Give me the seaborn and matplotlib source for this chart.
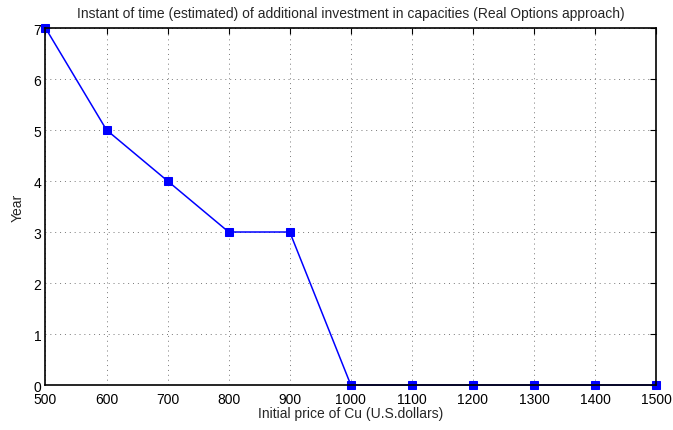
import matplotlib
matplotlib.use("Agg")
from matplotlib import pyplot as plt
import seaborn as sns
import pandas as pd

# Data
price = [500, 600, 700, 800, 900, 1000, 1100, 1200, 1300, 1400, 1500]
year = [7, 5, 4, 3, 3, 0, 0, 0, 0, 0, 0]
data = pd.DataFrame({"price": price, "year": year})

sns.set_style("white")
plt.rcParams['font.family'] = ['Liberation Sans', 'DejaVu Sans']
plt.rcParams['font.size'] = 10

fig = plt.figure(figsize=(6.73, 4.31), dpi=100)
ax = fig.add_axes([0.0676, 0.1044, 0.9074, 0.8283])

sns.lineplot(x="price", y="year", data=data, ax=ax, color="blue", linewidth=1.1,
             marker="s", markersize=6, markeredgecolor="blue", markerfacecolor="blue")

ax.set_xlim(500, 1500)
ax.set_ylim(0, 7)
ax.set_xticks(range(500, 1501, 100))
ax.set_yticks(range(0, 8))
ax.grid(True, color="#777777", linestyle=(0, (1, 4)), linewidth=0.7)
ax.tick_params(direction="in", top=True, right=True, length=4, width=0.8,
               labelsize=10, colors="black", pad=3)
ax.tick_params(axis="x", pad=5)
for s in ax.spines.values():
    s.set_visible(True)
    s.set_color("black")
    s.set_linewidth(1.2)
for line in ax.get_lines():
    line.set_clip_on(False)

ax.set_xlabel("Initial price of Cu (U.S.dollars)", fontsize=10, labelpad=0)
ax.set_ylabel("Year", fontsize=10, labelpad=6)
ax.set_title("Instant of time (estimated) of additional investment in capacities (Real Options approach)",
             fontsize=10, pad=8)

fig.savefig("out.png", dpi=100)
